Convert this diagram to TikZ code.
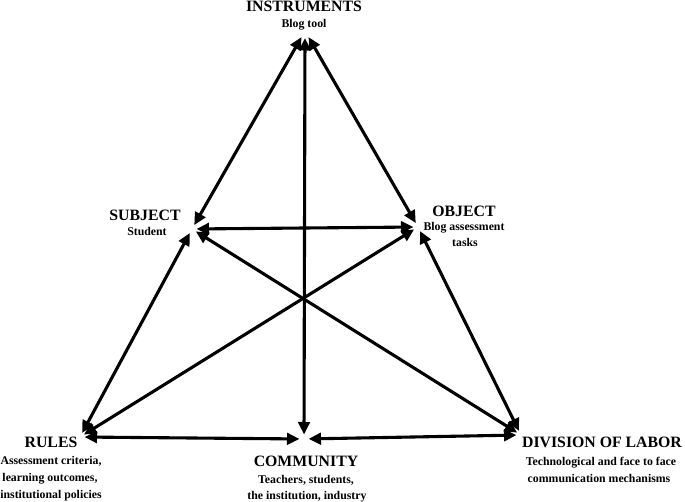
\documentclass[tikz,border=0pt]{standalone}
\usepackage{fontspec}
\setmainfont{Liberation Serif}
\usetikzlibrary{arrows.meta}
\begin{document}
\begin{tikzpicture}[x=1pt,y=-1pt,
  conn/.style={{Triangle[length=12.5pt,width=11.5pt]}-{Triangle[length=12.5pt,width=11.5pt]},
    line width=3.1pt, shorten <=4.5pt, shorten >=4.5pt},
  ttl/.style={font=\fontsize{15.8}{18}\selectfont\bfseries, inner sep=0pt, anchor=base},
  sub/.style={font=\fontsize{11.8}{16}\selectfont\bfseries, inner sep=0pt, anchor=base}]
\useasboundingbox (0,0) rectangle (685,502);

% junctions
\coordinate (I) at (305,31);
\coordinate (S) at (192,229);
\coordinate (O) at (418,227);
\coordinate (R) at (80,437);
\coordinate (C) at (304,439);
\coordinate (D) at (521,435);

% connectors
\draw[conn, shorten <=7pt] (I) -- (S);
\draw[conn, shorten <=7pt] (I) -- (O);
\draw[conn, shorten <=7pt] (I) -- (C);
\draw[conn] (S) -- (O);
\draw[conn] (S) -- (R);
\draw[conn] (S) -- (D);
\draw[conn] (O) -- (R);
\draw[conn] (O) -- (D);
\draw[conn] (R) -- (C);
\draw[conn] (C) -- (D);

% labels
\node[ttl] (tI) at (304,12) {INSTRUMENTS};
\node[sub] (sI) at (304,28) {Blog tool};

\node[ttl] (tS) at (145,221) {SUBJECT};
\node[sub] (sS) at (147,236) {Student};

\node[ttl] (tO) at (464,217) {OBJECT};
\node[sub] (sO1) at (464,231) {Blog assessment};
\node[sub] (sO2) at (465,247) {tasks};

\node[ttl] (tR) at (51,447) {RULES};
\node[sub] (sR1) at (51,464) {Assessment criteria,};
\node[sub] (sR2) at (50,481) {learning outcomes,};
\node[sub] (sR3) at (51,498) {institutional policies};

\node[ttl] (tC) at (306,466) {COMMUNITY};
\node[sub] (sC1) at (306,483) {Teachers, students,};
\node[sub] (sC2) at (307,499) {the institution, industry};

\node[ttl] (tD) at (602,447) {DIVISION OF LABOR};
\node[sub] (sD1) at (601,465) {Technological and face to face};
\node[sub] (sD2) at (599,482) {communication mechanisms};
\end{tikzpicture}
\end{document}
